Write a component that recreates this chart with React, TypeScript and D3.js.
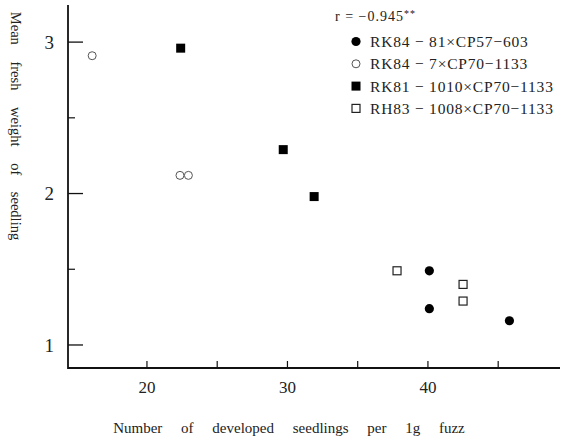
import * as d3 from "d3";

type Pt = { x: number; y: number };

const seriesNames = [
  "RK84 − 81×CP57−603",
  "RK84 − 7×CP70−1133",
  "RK81 − 1010×CP70−1133",
  "RH83 − 1008×CP70−1133",
];
const seriesShapes = ["filledCircle", "openCircle", "filledSquare", "openSquare"];

const filledCircles: Pt[] = [
  { x: 40.1, y: 1.49 },
  { x: 40.1, y: 1.24 },
  { x: 45.8, y: 1.16 },
];
const openCircles: Pt[] = [
  { x: 16.1, y: 2.91 },
  { x: 22.35, y: 2.12 },
  { x: 22.95, y: 2.12 },
];
const filledSquares: Pt[] = [
  { x: 22.4, y: 2.96 },
  { x: 29.7, y: 2.29 },
  { x: 31.9, y: 1.98 },
];
const openSquares: Pt[] = [
  { x: 37.8, y: 1.49 },
  { x: 42.5, y: 1.4 },
  { x: 42.5, y: 1.29 },
];
const seriesData = [filledCircles, openCircles, filledSquares, openSquares];

const xMajorTicks = [20, 30, 40];
const xMinorTicks = [25, 35, 45];
const yMajorTicks = [1, 2, 3];
const yMinorTicks = [1.5, 2.5];

const W = 567;
const H = 441;
const font = "'Liberation Serif', 'DejaVu Serif', serif";

function Marker({ shape, cx, cy }: { shape: string; cx: number; cy: number }) {
  if (shape === "filledCircle") return <circle cx={cx} cy={cy} r={4.6} fill="#000" />;
  if (shape === "openCircle")
    return <circle cx={cx} cy={cy} r={4} fill="#fff" stroke="#555" strokeWidth={1} />;
  if (shape === "filledSquare")
    return <rect x={cx - 4.5} y={cy - 4.5} width={9} height={9} fill="#000" />;
  return (
    <rect x={cx - 4} y={cy - 4} width={8} height={8} fill="#fff" stroke="#222" strokeWidth={1.2} />
  );
}

export default function App() {
  const left = 68;
  const right = 560;
  const top = 5;
  const bottom = 368;

  const x = d3.scaleLinear().domain([14.38, 49.4]).range([left, right]);
  const y = d3.scaleLinear().domain([0.848, 3.245]).range([bottom, top]);

  return (
    <svg
      width={W}
      height={H}
      style={{ position: "absolute", left: 0, top: 0, background: "#fff" }}
      fontFamily={font}
    >
      <rect width={W} height={H} fill="#fff" />
      {/* axes */}
      <line x1={left} x2={left} y1={top} y2={bottom + 1} stroke="#111" strokeWidth={1.8} />
      <line x1={left} x2={right} y1={bottom} y2={bottom} stroke="#111" strokeWidth={1.8} />

      {yMajorTicks.map((t) => (
        <g key={t}>
          <line x1={left} x2={left + 15} y1={y(t)} y2={y(t)} stroke="#111" strokeWidth={1.3} />
          <text x={54} y={y(t)} dy="0.36em" textAnchor="end" fontSize={19} fill="#222">
            {t}
          </text>
        </g>
      ))}
      {yMinorTicks.map((t) => (
        <line key={t} x1={left} x2={left + 7} y1={y(t)} y2={y(t)} stroke="#111" strokeWidth={1.2} />
      ))}
      {xMajorTicks.map((t) => (
        <g key={t}>
          <line x1={x(t)} x2={x(t)} y1={bottom} y2={bottom - 7} stroke="#111" strokeWidth={1.2} />
          <text x={x(t)} y={393} textAnchor="middle" fontSize={17} fill="#222">
            {t}
          </text>
        </g>
      ))}
      {xMinorTicks.map((t) => (
        <line key={t} x1={x(t)} x2={x(t)} y1={bottom} y2={bottom - 7} stroke="#111" strokeWidth={1.2} />
      ))}

      {/* points */}
      {seriesData.map((pts, i) =>
        pts.map((p, j) => <Marker key={`${i}-${j}`} shape={seriesShapes[i]} cx={x(p.x)} cy={y(p.y)} />)
      )}

      {/* legend */}
      <text x={335} y={21} fontSize={14} fill="#222" letterSpacing={1}>
        r = −0.945
        <tspan fontSize={10} dy={-4}>**</tspan>
      </text>
      {seriesNames.map((name, i) => (
        <g key={name} transform={`translate(0, ${41.5 + i * 22.3})`}>
          <Marker shape={seriesShapes[i]} cx={356} cy={0} />
          <text x={370} y={0} dy="0.35em" fontSize={15.5} fill="#222" letterSpacing={0.8}>
            {name}
          </text>
        </g>
      ))}

      {/* axis titles */}
      <text
        transform={`translate(11, 126) rotate(90)`}
        textAnchor="middle"
        fontSize={14.5}
        fill="#222"
        wordSpacing={13}
      >
        Mean fresh weight of seedling
      </text>
      <text x={289} y={433} textAnchor="middle" fontSize={15} fill="#222" wordSpacing={15}>
        Number of developed seedlings per 1g fuzz
      </text>
    </svg>
  );
}
